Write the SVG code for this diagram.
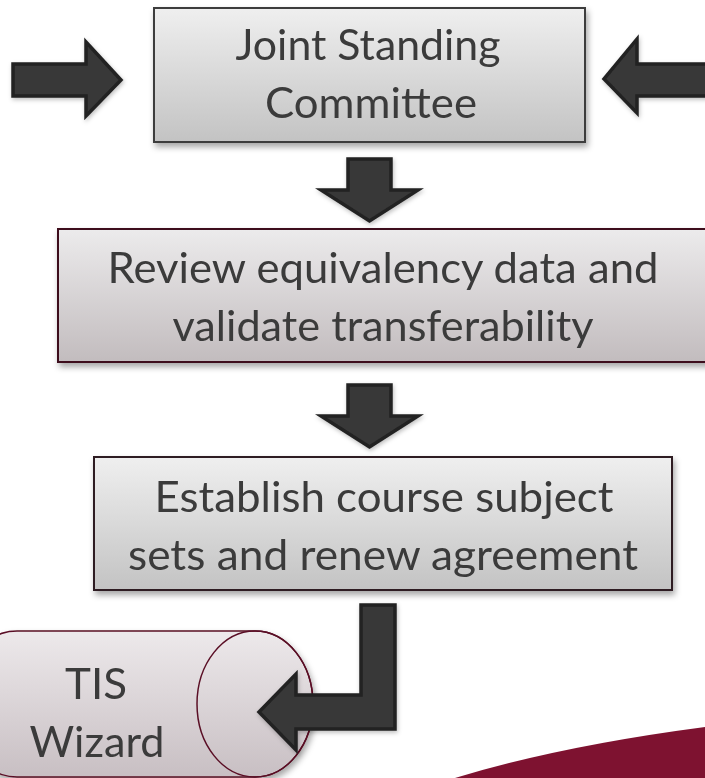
<svg xmlns="http://www.w3.org/2000/svg" width="705" height="778" viewBox="0 0 705 778">
<defs>
<linearGradient id="gGray" x1="0" y1="0" x2="0" y2="1">
<stop offset="0" stop-color="#efefef"/><stop offset="1" stop-color="#c3c3c3"/>
</linearGradient>
<linearGradient id="gRose" x1="0" y1="0" x2="0" y2="1">
<stop offset="0" stop-color="#ecebec"/><stop offset="1" stop-color="#c2bcbe"/>
</linearGradient>
<linearGradient id="gCyl" x1="0" y1="0" x2="0" y2="1">
<stop offset="0" stop-color="#ede9eb"/><stop offset="1" stop-color="#c8bfc3"/>
</linearGradient>
<filter id="shadow" x="-10%" y="-10%" width="125%" height="130%">
<feDropShadow dx="2" dy="4" stdDeviation="3" flood-color="#000" flood-opacity="0.35"/>
</filter>
<filter id="ashadow" x="-20%" y="-20%" width="150%" height="150%">
<feDropShadow dx="1" dy="2" stdDeviation="2" flood-color="#000" flood-opacity="0.25"/>
</filter>
</defs>
<style>
.lbl{font-family:Lato,"Open Sans","Liberation Sans",sans-serif;font-size:42px;fill:#3b3b3b;text-anchor:middle}
.arrow{fill:#383838;stroke:#232323;stroke-width:3.5;stroke-linejoin:miter;filter:url(#ashadow)}
</style>
<path id="swoosh" d="M455 778 Q560 746 705 727 L705 778 Z" fill="#7e1230"/>
<g id="committee" filter="url(#shadow)">
<rect x="154" y="8" width="431" height="134" fill="url(#gGray)" stroke="#3c3c3c" stroke-width="2"/>
<text class="lbl" x="368" y="60" textLength="265" lengthAdjust="spacingAndGlyphs">Joint Standing</text>
<text class="lbl" x="371" y="118" textLength="212" lengthAdjust="spacingAndGlyphs">Committee</text>
</g>
<g id="review" filter="url(#shadow)">
<rect x="58" y="229" width="652" height="133" fill="url(#gRose)" stroke="#3d0a1a" stroke-width="2"/>
<text class="lbl" x="383" y="283" textLength="551" lengthAdjust="spacingAndGlyphs">Review equivalency data and</text>
<text class="lbl" x="383" y="341" textLength="421" lengthAdjust="spacingAndGlyphs">validate transferability</text>
</g>
<g id="establish" filter="url(#shadow)">
<rect x="94" y="457" width="578" height="133" fill="url(#gGray)" stroke="#2e1a20" stroke-width="2"/>
<text class="lbl" x="384" y="512" textLength="459" lengthAdjust="spacingAndGlyphs">Establish course subject</text>
<text class="lbl" x="383" y="570" textLength="510" lengthAdjust="spacingAndGlyphs">sets and renew agreement</text>
</g>
<g id="tis" filter="url(#shadow)">
<path d="M17 631 L255 631 A58 73 0 0 1 255 777 L17 777 A58 73 0 0 1 17 631 Z" fill="url(#gCyl)" stroke="#5a0f25" stroke-width="1.5"/>
<ellipse cx="255" cy="704" rx="58" ry="73" fill="none" stroke="#5a0f25" stroke-width="1.5"/>
<text class="lbl" x="96" y="699" textLength="62" lengthAdjust="spacingAndGlyphs">TIS</text>
<text class="lbl" x="97" y="757" textLength="135" lengthAdjust="spacingAndGlyphs">Wizard</text>
</g>
<g id="connectors">
<path class="arrow" d="M13 64 L86 64 L86 42 L121 80 L86 116 L86 96 L13 96 Z"/>
<path class="arrow" d="M712 64 L637 64 L637 39 L604 79 L637 113 L637 96 L712 96 Z"/>
<path class="arrow" d="M348 159 L391 159 L391 190 L418 190 L369.5 221 L321 190 L348 190 Z"/>
<path class="arrow" d="M348 385 L391 385 L391 416 L418 416 L369.5 447 L321 416 L348 416 Z"/>
<path class="arrow" d="M361 605 L395 605 L395 729 L296 729 L296 750 L259 712 L296 674 L296 695 L361 695 Z"/>
</g>
</svg>
